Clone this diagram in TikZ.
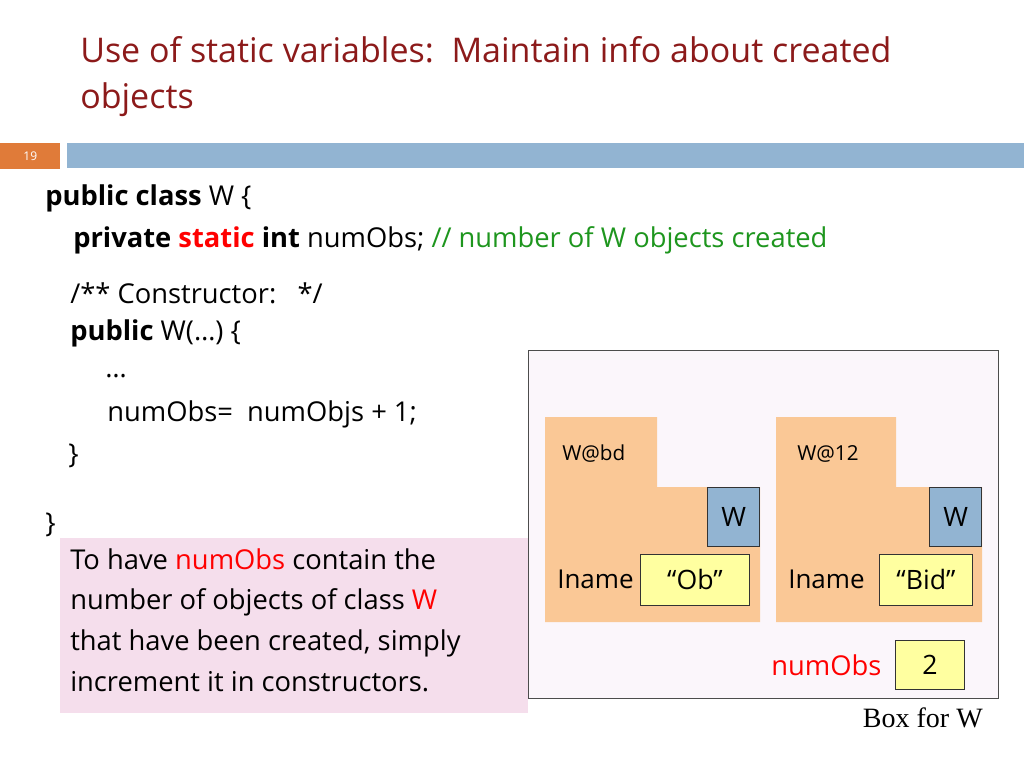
\documentclass[tikz,border=0pt]{standalone}
\usepackage{fontspec}
\setmainfont{Open Sans}
\newfontfamily\serifbox{Liberation Serif}
\usetikzlibrary{positioning}
\definecolor{titlered}{RGB}{140,26,26}
\definecolor{numorange}{RGB}{224,123,57}
\definecolor{barblue}{RGB}{146,180,210}
\definecolor{objorange}{RGB}{250,200,150}
\definecolor{notepink}{RGB}{245,222,236}
\definecolor{spacebg}{RGB}{251,246,251}
\definecolor{noteyel}{RGB}{255,255,160}
\definecolor{cmtgreen}{RGB}{30,150,30}
\begin{document}
\begin{tikzpicture}[x=0.75pt, y=-0.75pt]
\tikzset{
  code/.style={anchor=west, inner sep=0pt, font=\fontsize{20.5}{22}\selectfont},
  obj/.style={fill=objorange, draw=none},
  tag/.style={draw=black!80, fill=barblue, minimum width=39pt, minimum height=44pt, inner sep=0pt, font=\fontsize{20}{22}\selectfont},
  valbox/.style={draw=black!80, fill=noteyel, inner sep=0pt, font=\fontsize{20}{22}\selectfont}
}
\useasboundingbox[fill=white] (0,0) rectangle (1024,768);
% -------------------- Title --------------------
\node[code, font=\fontsize{25.5}{28}\selectfont, text=titlered] (title1) at (80,50) {Use of static variables:\ \ Maintain info about created};
\node[code, font=\fontsize{25.5}{28}\selectfont, text=titlered] (title2) at (80,100) {objects};
\node[fill=numorange, minimum width=45pt, minimum height=19pt, inner sep=0pt, anchor=north west, text=white, font=\fontsize{9}{10}\selectfont] (num) at (0,143) {19};
\fill[barblue] (67,143) rectangle (1024,168);
% -------------------- Code --------------------
\node[code] (l1) at (45,198) {\textbf{public class} W \{};
\node[code] (l2) at (73,240) {\textbf{private} \textcolor{red}{\textbf{static}} \textbf{int} numObs; \textcolor{cmtgreen}{// number of W objects created}};
\node[code] (l3) at (70,293) {/** Constructor:\ \ \ */};
\node[code] (l4) at (70,333) {\textbf{public} W(\dots) \{};
\node[code] (l5) at (105,376) {\dots};
\node[code] (l6) at (107,414) {numObs=\ \ numObjs + 1;};
\node[code] (l7) at (68,456) {\}};
\node[code] (l8) at (45,525) {\}};
% -------------------- Note --------------------
\fill[notepink] (60,538) rectangle (528,713);
\node[code, align=left, anchor=north west, font=\fontsize{20.5}{30.5}\selectfont] (note) at (70,548) {To have \textcolor{red}{numObs} contain the\\number of objects of class \textcolor{red}{W}\\that have been created, simply\\increment it in constructors.};
% -------------------- Object space --------------------
\draw[black!70, fill=spacebg] (528,350) rectangle (998,698);
\fill[obj] (545,417) -- (657,417) -- (657,487) -- (760,487) -- (760,622) -- (545,622) -- cycle;
\fill[obj] (776,417) -- (896,417) -- (896,487) -- (982,487) -- (982,622) -- (776,622) -- cycle;
\node[code, font=\fontsize{15.5}{16}\selectfont] (nameA) at (562,454) {W@bd};
\node[code, font=\fontsize{15.5}{16}\selectfont] (nameB) at (797,454) {W@12};
\node[tag, anchor=north east] (tagA) at (760,487) {W};
\node[tag, anchor=north east] (tagB) at (982,487) {W};
\node[valbox, minimum width=82pt, minimum height=38pt, anchor=north west] (valA) at (640,554) {``Ob''};
\node[valbox, minimum width=70pt, minimum height=38pt, anchor=north west] (valB) at (879,554) {``Bid''};
\node[code, font=\fontsize{19.5}{22}\selectfont] (fldA) at (557,579) {Iname};
\node[code, font=\fontsize{19.5}{22}\selectfont] (fldB) at (788,579) {Iname};
\node[valbox, minimum width=52pt, minimum height=37pt, anchor=north west] (cnt) at (895,640) {2};
\node[code, text=red, left=10pt of cnt] (cntlbl) {numObs};
\node[anchor=east, inner sep=0pt, font=\serifbox\fontsize{21}{24}\selectfont] (cap) at (983,718) {Box for W};
\end{tikzpicture}
\end{document}
